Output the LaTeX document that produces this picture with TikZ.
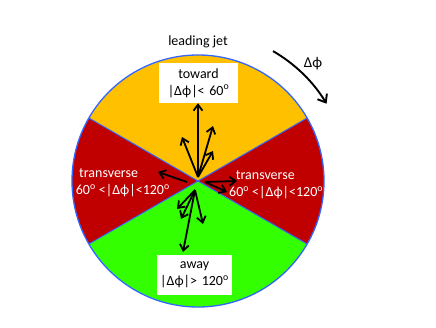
\documentclass[tikz,border=0pt]{standalone}
\usepackage{fontspec}
\setmainfont{Carlito}
\usetikzlibrary{arrows.meta,calc}
\definecolor{torange}{RGB}{255,192,0}
\definecolor{tred}{RGB}{192,0,0}
\definecolor{tgreen}{RGB}{51,255,0}
\definecolor{tblue}{RGB}{51,102,255}
\begin{document}
\begin{tikzpicture}[x=1pt,y=-1pt,
  font=\fontsize{14}{17}\selectfont,
  vec/.style={line width=1.8pt,-{Straight Barb[length=6pt,width=9pt]}},
  box/.style={fill=white,inner sep=0pt,align=center,minimum height=40pt},
  wlabel/.style={text=white,align=left,inner sep=0pt,anchor=west}]
\useasboundingbox (0,0) rectangle (436,327);
\coordinate (c) at (198,181);
% sectors
\fill[torange] (c) -- ([shift={(c)}]-150:126) arc[start angle=-150,end angle=-30,radius=126] -- cycle;
\fill[tred] (c) -- ([shift={(c)}]-30:126) arc[start angle=-30,end angle=30,radius=126] -- cycle;
\fill[tgreen] (c) -- ([shift={(c)}]30:126) arc[start angle=30,end angle=150,radius=126] -- cycle;
\fill[tred] (c) -- ([shift={(c)}]150:126) arc[start angle=150,end angle=210,radius=126] -- cycle;
\draw[tblue,line width=1pt] ([shift={(c)}]-150:126) -- ([shift={(c)}]30:126);
\draw[tblue,line width=1pt] ([shift={(c)}]-30:126) -- ([shift={(c)}]150:126);
\draw[tblue,line width=1.3pt] (c) circle[radius=126];
% boxes
\node[box,text width=79pt] (toward) at (198.5,83) {toward\\|Δϕ|< 60\textsuperscript{o}};
\node[box,text width=75pt] (away) at (194.5,275) {away\\|Δϕ|> 120\textsuperscript{o}};
% labels
\node[wlabel] (tleft) at (75.7,183) {\hspace*{3.3pt}transverse\\60\textsuperscript{o} <|Δϕ|<120\textsuperscript{o}};
\node[wlabel] (tright) at (229,185) {\hspace*{6.7pt}transverse\\60\textsuperscript{o} <|Δϕ|<120\textsuperscript{o}};
\node[anchor=base] (lj) at (198,45) {leading jet};
\node[anchor=base,font=\fontsize{15}{18}\selectfont] (dphi) at (313,67) {Δϕ};
% arrow coordinates
\coordinate (ts) at (198,177);
\coordinate (t1) at (182,137);
\coordinate (t2) at (213,126);
\coordinate (t3) at (213,151);
\coordinate (ls) at (187,182);
\coordinate (l1) at (158,172);
\coordinate (rs) at (205,182);
\coordinate (r1) at (237,181);
\coordinate (r2) at (227,192);
\coordinate (bs) at (195,190);
\coordinate (b1) at (177,209);
\coordinate (b2) at (181,219);
\coordinate (b3) at (203,224);
\coordinate (b4) at (183,252);
\draw[vec] (ts) -- (ts |- toward.south);
\draw[vec] (ts) -- (t1);
\draw[vec] (ts) -- (t2);
\draw[vec] (ts) -- (t3);
\draw[vec] (ls) -- (l1);
\draw[vec] (rs) -- (r1);
\draw[vec] (rs) -- (r2);
\draw[vec] (bs) -- (b1);
\draw[vec] (bs) -- (b2);
\draw[vec] (bs) -- (b3);
\draw[vec] (bs) -- (b4);
% delta phi arc
\coordinate (as) at ([shift={(c)}]-60:150);
\draw[line width=1.9pt,-{Straight Barb[length=7pt,width=11pt]}] (as) arc[start angle=-60,end angle=-31,radius=150];
\end{tikzpicture}
\end{document}
